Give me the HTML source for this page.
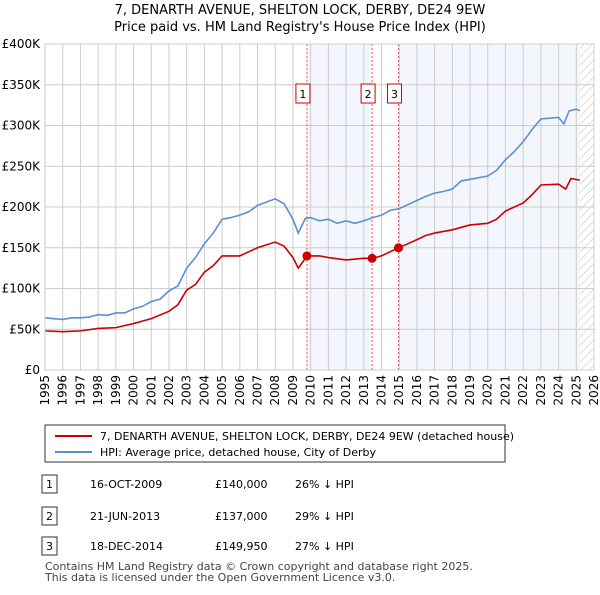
<!DOCTYPE html>
<html><head><meta charset="utf-8"><style>
body{margin:0;background:#fff;font-family:"Liberation Sans","DejaVu Sans",sans-serif;}
svg text{font-family:"DejaVu Sans","Liberation Sans",sans-serif;}
</style></head><body>
<svg id="c" width="600" height="590" xmlns="http://www.w3.org/2000/svg">
<defs><pattern id="h" width="6" height="6" patternUnits="userSpaceOnUse" patternTransform="rotate(45)"><line x1="0" y1="0" x2="0" y2="6" stroke="#bbb" stroke-width="1"/></pattern></defs>
<text x="300" y="14" text-anchor="middle" font-size="13">7, DENARTH AVENUE, SHELTON LOCK, DERBY, DE24 9EW</text>
<text x="300" y="31" text-anchor="middle" font-size="13">Price paid vs. HM Land Registry's House Price Index (HPI)</text>
<g id="plot"></g>
<g>
<rect x="45" y="425" width="460" height="37" fill="#fff" stroke="#333"/>
<line x1="55" y1="436" x2="92" y2="436" stroke="#cc0000" stroke-width="2"/>
<text x="100" y="440" font-size="11">7, DENARTH AVENUE, SHELTON LOCK, DERBY, DE24 9EW (detached house)</text>
<line x1="55" y1="452" x2="92" y2="452" stroke="#5b8fd4" stroke-width="2"/>
<text x="100" y="456" font-size="11">HPI: Average price, detached house, City of Derby</text>
</g>
<g font-size="11">
<rect x="42" y="475" width="15" height="18" fill="#fff" stroke="#333"/><text x="49.5" y="488" text-anchor="middle">1</text>
<text x="90" y="488">16-OCT-2009</text><text x="215" y="488">£140,000</text><text x="295" y="488">26% ↓ HPI</text>
<rect x="42" y="507" width="15" height="18" fill="#fff" stroke="#333"/><text x="49.5" y="520" text-anchor="middle">2</text>
<text x="90" y="520">21-JUN-2013</text><text x="215" y="520">£137,000</text><text x="295" y="520">29% ↓ HPI</text>
<rect x="42" y="537" width="15" height="18" fill="#fff" stroke="#333"/><text x="49.5" y="550" text-anchor="middle">3</text>
<text x="90" y="550">18-DEC-2014</text><text x="215" y="550">£149,950</text><text x="295" y="550">27% ↓ HPI</text>
</g>
<text x="45" y="570" font-size="11" fill="#444">Contains HM Land Registry data © Crown copyright and database right 2025.</text>
<text x="45" y="581" font-size="11" fill="#444">This data is licensed under the Open Government Licence v3.0.</text>
</svg>
<script>
const yTicks=[0,50,100,150,200,250,300,350,400];
const yTickLabels=["£0","£50K","£100K","£150K","£200K","£250K","£300K","£350K","£400K"];
const years=[1995,1996,1997,1998,1999,2000,2001,2002,2003,2004,2005,2006,2007,2008,2009,2010,2011,2012,2013,2014,2015,2016,2017,2018,2019,2020,2021,2022,2023,2024,2025,2026];
const hpiT=[1995,1995.5,1996,1996.5,1997,1997.5,1998,1998.5,1999,1999.5,2000,2000.5,2001,2001.5,2002,2002.5,2003,2003.5,2004,2004.5,2005,2005.5,2006,2006.5,2007,2007.5,2008,2008.5,2009,2009.3,2009.7,2010,2010.5,2011,2011.5,2012,2012.5,2013,2013.5,2014,2014.5,2015,2015.5,2016,2016.5,2017,2017.5,2018,2018.5,2019,2019.5,2020,2020.5,2021,2021.5,2022,2022.5,2023,2023.5,2024,2024.3,2024.6,2025,2025.2];
const hpiV=[64,63,62,64,64,65,68,67,70,70,75,78,84,87,97,103,125,138,155,168,185,187,190,194,202,206,210,204,185,168,186,187,183,185,180,183,180,183,187,190,196,198,203,208,213,217,219,222,232,234,236,238,245,258,268,280,295,308,309,310,302,318,320,318];
const ppT=[1995,1996,1997,1998,1999,2000,2001,2002,2002.5,2003,2003.5,2004,2004.5,2005,2006,2006.5,2007,2008,2008.5,2009,2009.3,2009.8,2010.5,2011,2012,2013,2013.47,2014,2014.96,2015.5,2016,2016.5,2017,2018,2019,2020,2020.5,2021,2022,2022.5,2023,2024,2024.4,2024.7,2025.2];
const ppV=[48,47,48,51,52,57,63,72,80,98,105,120,128,140,140,145,150,157,152,138,125,140,140,138,135,137,137,140,150,155,160,165,168,172,178,180,185,195,205,215,227,228,222,235,233];
const salesT=[2009.79,2013.47,2014.96];
const salesV=[140,137,149.95];
const saleLabels=["1","2","3"];
const X0=45,X1=594,Y0=370,Y1=44;
const x=t=>X0+(t-1995)/(2026-1995)*(X1-X0);
const y=v=>Y0-v/400*(Y0-Y1);
const NS="http://www.w3.org/2000/svg";
const g=document.getElementById('plot');
function mk(tag,a){const e=document.createElementNS(NS,tag);for(const k in a)e.setAttribute(k,a[k]);g.appendChild(e);return e;}
let r=mk('rect',{x:x(salesT[0]),y:Y1,width:x(salesT[1])-x(salesT[0]),height:Y0-Y1,fill:'#eef3fc',opacity:0.7});


r=mk('rect',{x:x(salesT[2]),y:Y1,width:x(2025.2)-x(salesT[2]),height:Y0-Y1,fill:'#eef3fc',opacity:0.7});


r=mk('rect',{x:x(2025.2),y:Y1,width:X1-x(2025.2),height:Y0-Y1,fill:'url(#h)'});


years.forEach(t=>{const l=mk('line',{x1:x(t),x2:x(t),y1:Y1,y2:Y0,stroke:'#ccc'});


const tx=mk('text',{x:0,y:0,'font-size':12,'text-anchor':'end',transform:`translate(${x(t)+4},${Y0+5}) rotate(-90)`});tx.textContent=t;

});
yTicks.forEach((v,i)=>{const l=mk('line',{x1:X0,x2:X1,y1:y(v),y2:y(v),stroke:'#ccc'});


const tx=mk('text',{x:40,y:y(v)+4,'font-size':12,'text-anchor':'end'});tx.textContent=yTickLabels[i];

});
salesT.forEach((t,i)=>{const l=mk('line',{x1:x(t),x2:x(t),y1:Y1,y2:Y0,stroke:'#e55','stroke-dasharray':'2,2'});


const b=mk('rect',{x:x(t)-11,y:84,width:14,height:19,fill:'#fff',stroke:'#cc0000'});


const tx=mk('text',{x:x(t)-4,y:98,'font-size':11,'text-anchor':'middle'});tx.textContent=saleLabels[i];

});
let p=mk('polyline',{points:hpiT.map((t,i)=>x(t)+','+y(hpiV[i])).join(' '),fill:'none',stroke:'#5b8fd4','stroke-width':1.6});


p=mk('polyline',{points:ppT.map((t,i)=>x(t)+','+y(ppV[i])).join(' '),fill:'none',stroke:'#cc0000','stroke-width':1.6});


salesT.forEach((t,i)=>{const c=mk('circle',{cx:x(t),cy:y(salesV[i]),r:4.5,fill:'#cc0000'});

});
const bd=mk('rect',{x:X0,y:Y1,width:X1-X0,height:Y0-Y1,fill:'none',stroke:'#ccc'});


</script>
</body></html>
